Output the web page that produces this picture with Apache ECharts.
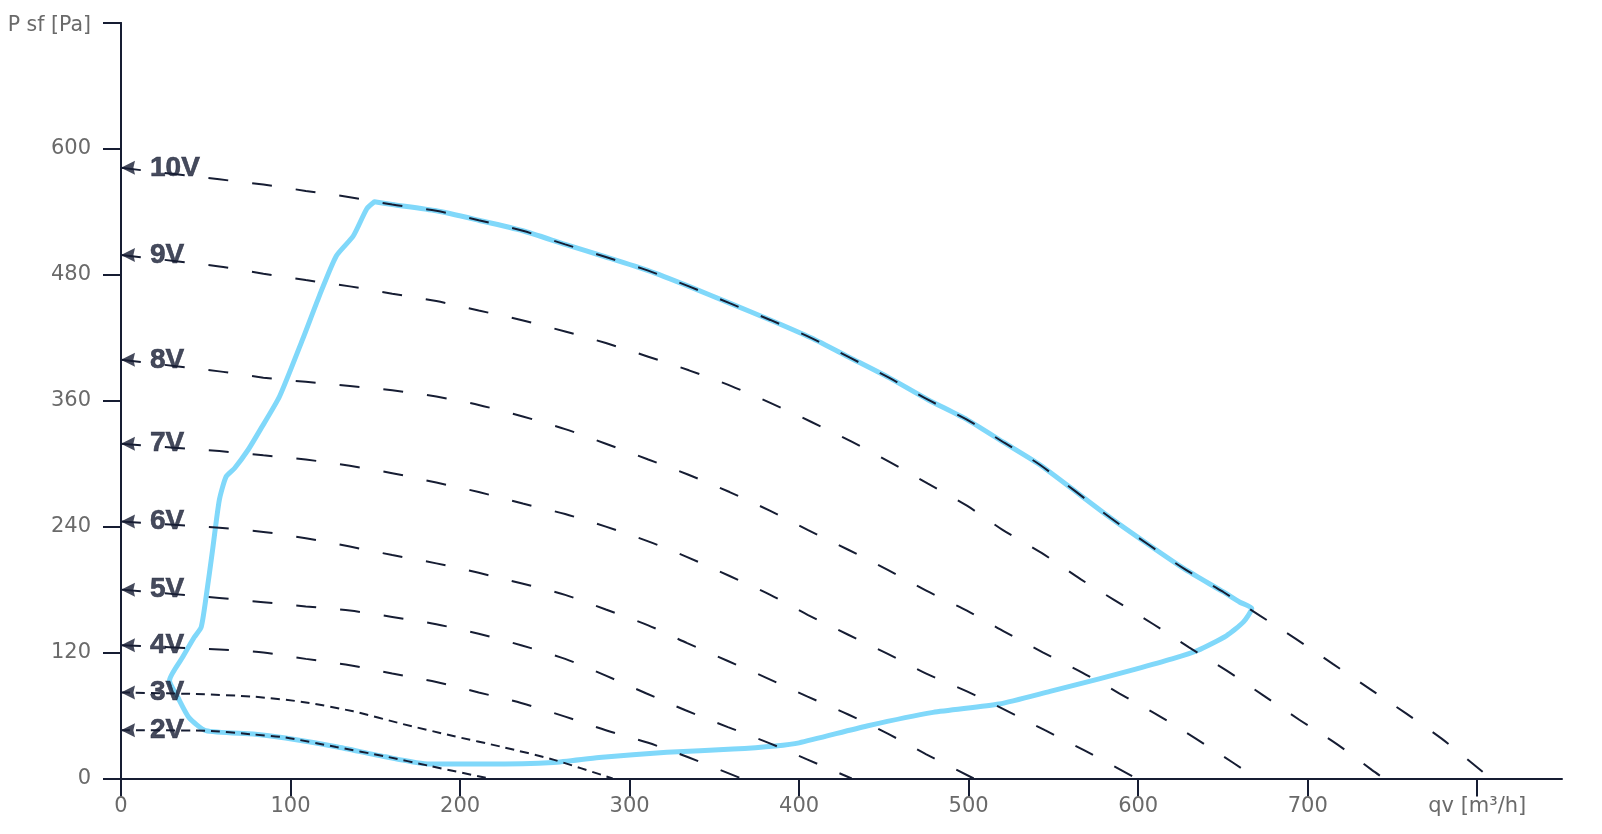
<!DOCTYPE html>
<html>
<head>
<meta charset="utf-8">
<script src="https://cdn.jsdelivr.net/npm/echarts@6/dist/echarts.min.js"></script>
<style>
html,body{margin:0;padding:0;background:#fff;}
#chart{width:1602px;height:834px;}
</style>
</head>
<body>
<div id="chart"></div>
<script>
// ---- axis settings / tick labels ----
const xAxisName = 'qv [m³/h]';
const yAxisName = 'P sf [Pa]';
const xMax = 850, xStep = 100, xNameTick = 800;
const yMax = 720, yStep = 120, yNameTick = 720;

// ---- voltage curves (qv, Psf) ----
const voltageNames = ['10V','9V','8V','7V','6V','5V','4V','3V','2V'];
const v10 = [[0,582],[58,571],[84,566],[109,560],[135,554],[160,547],[186,541],[211,532],[237,522],[262,509],[286,497],[311,484],[335,469],[359,453],[383,437],[407,420],[430,401],[453,382],[476,361],[499,342],[521,320],[542,299],[584,248],[606,223],[627,200],[650,178],[672,155],[693,133],[715,109],[737,85],[758,62],[779,38],[799,12],[808,0]];
const v9 = [[0,499],[58,488],[84,481],[109,475],[135,469],[160,462],[186,455],[211,446],[236,437],[262,426],[286,415],[311,402],[335,389],[360,374],[383,358],[407,340],[431,321],[453,302],[476,281],[499,260],[520,237],[543,215],[566,190],[586,170],[609,147],[630,125],[652,103],[674,79],[695,56],[717,33],[738,8],[745,0]];
const v8 = [[0,399],[58,388],[84,382],[109,378],[135,374],[160,370],[186,364],[211,356],[237,345],[262,333],[286,319],[311,304],[334,290],[359,273],[383,255],[405,237],[429,218],[452,199],[475,179],[499,160],[521,140],[544,120],[567,101],[589,81],[612,60],[634,38],[656,15],[670,0]];
const v7 = [[0,319],[58,312],[84,308],[109,304],[135,298],[160,291],[186,282],[211,273],[237,262],[262,252],[286,240],[311,226],[334,211],[359,193],[383,175],[405,156],[429,137],[452,119],[475,100],[499,83],[522,65],[545,46],[568,27],[599,0]];
const v6 = [[0,245],[58,239],[84,235],[109,229],[135,221],[160,213],[186,205],[211,196],[236,186],[262,175],[286,161],[311,146],[334,129],[358,112],[382,95],[405,78],[429,61],[452,43],[475,23],[503,0]];
const v5 = [[0,180],[58,172],[84,168],[109,164],[135,160],[160,154],[186,147],[211,138],[236,127],[262,114],[286,98],[310,81],[333,65],[358,49],[382,34],[405,18],[431,0]];
const v4 = [[0,127],[58,123],[84,120],[109,114],[135,108],[160,100],[186,92],[211,82],[236,72],[262,59],[286,46],[311,34],[335,20],[366,0]];
const v3 = [[0,82],[44,80.5],[78,78],[107,73],[137,64],[166,52],[196,40.5],[225,30],[255,18],[290,0]];
const v2 = [[0,46],[50,45.5],[78,42],[97,39],[127,30],[156,21],[182,12],[217,0]];

// ---- operating envelope (blue) ----
const envelope = [[149.5,549.6],[160,547],[186,541],[211,532],[237,522],[262,509],[286,497],[311,484],[335,469],[359,453],[383,437],[407,420],[430,401],[453,382],[476,361],[499,342],[521,320],[542,299],[584,248],[606,223],[627,200],[650,178],[660,168],[667,162],
  [662,149],[652,136],[635,122],[620,114],[598,104],[577,95],[548,83],[518,71],[479,63],[440,50],[400,34],[386,31],[361,28],[322,25],[282,20],[255,15.3],[215,13.8],[182,13.8],[156,20.7],[127,30.3],[97,38.6],[78,42.4],[50,45.6],[40,58.3],[33.5,77.4],[28.6,93.4],
  [36.4,115.7],[43.3,134.8],[47.3,144.3],[50.2,173],[54,217.6],[58,265.4],[62,287.7],[67,295.7],[75,313.3],[82,332],[93.5,364],[107,418],[117,460],[127,498],[137,517],[145,543],[149.5,549.6]];

const voltageData = [v10,v9,v8,v7,v6,v5,v4,v3,v2];
const shortDash = ['3V','2V'];

const ink = '#161d33';
const grey = '#6a6a6a';
const axisFont = 'DejaVu Sans';

const series = [];
series.push({
  type:'line', name:'envelope', data: envelope, smooth:0.2, symbol:'none',
  lineStyle:{color:'#80d8fa', width:5, cap:'round', join:'round'}, z:2
});
voltageData.forEach((d,i) => {
  const nm = voltageNames[i];
  series.push({
    type:'line', name:nm, data:d, smooth:0.25, symbol:'none',
    lineStyle:{color:ink, width:2, type: shortDash.includes(nm) ? [9,6] : [20,24]}, z:3
  });
});
series.push({
  type:'scatter', name:'labels', clip:false, z:5,
  data: voltageData.map((d,i) => [d[0][0], d[0][1], voltageNames[i]]),
  symbol:'path://M0,6L13,0L11.5,6L13,12Z', symbolSize:[14,14], symbolOffset:[7,0],
  itemStyle:{color:ink},
  label:{show:true, position:'right', distance:15, formatter:p=>p.value[2],
    fontFamily:'Liberation Sans, Arial, sans-serif', fontWeight:'bold', fontSize:28, color:ink,
    textBorderColor:ink, textBorderWidth:0.6}
});

const chart = echarts.init(document.getElementById('chart'), null, {renderer:'canvas'});
chart.setOption({
  animation:false,
  backgroundColor:'#fff',
  grid:{left:121, right:40, top:23, bottom:55.5, containLabel:false},
  xAxis:{
    type:'value', min:0, max:xMax, interval:xStep,
    axisLine:{show:true, onZero:false, lineStyle:{color:ink, width:2}},
    axisTick:{show:true, length:18, lineStyle:{color:ink, width:2}},
    splitLine:{show:false},
    axisLabel:{margin:18, color:grey, fontSize:21, fontFamily:axisFont, showMaxLabel:false,
      formatter:v => v === xNameTick ? xAxisName : (v >= xMax ? '' : String(v))}
  },
  yAxis:[{
    type:'value', min:0, max:yMax, interval:yStep,
    axisLine:{show:true, onZero:false, lineStyle:{color:ink, width:2}},
    axisTick:{show:true, length:18, lineStyle:{color:ink, width:2}},
    splitLine:{show:false},
    axisLabel:{margin:30, color:grey, fontSize:21, fontFamily:axisFont,
      formatter:v => v === yNameTick ? '{n|' + yAxisName + '}' : String(v),
      rich:{n:{padding:[6,0,0,0], color:grey, fontSize:20.5, fontFamily:axisFont}}}
  },{
    type:'value', min:0, max:yMax, interval:yStep, position:'right',
    axisLine:{show:true, lineStyle:{color:ink, width:2}},
    axisTick:{show:false}, axisLabel:{show:false}, splitLine:{show:false}
  }],
  series: series
});
</script>
</body>
</html>
